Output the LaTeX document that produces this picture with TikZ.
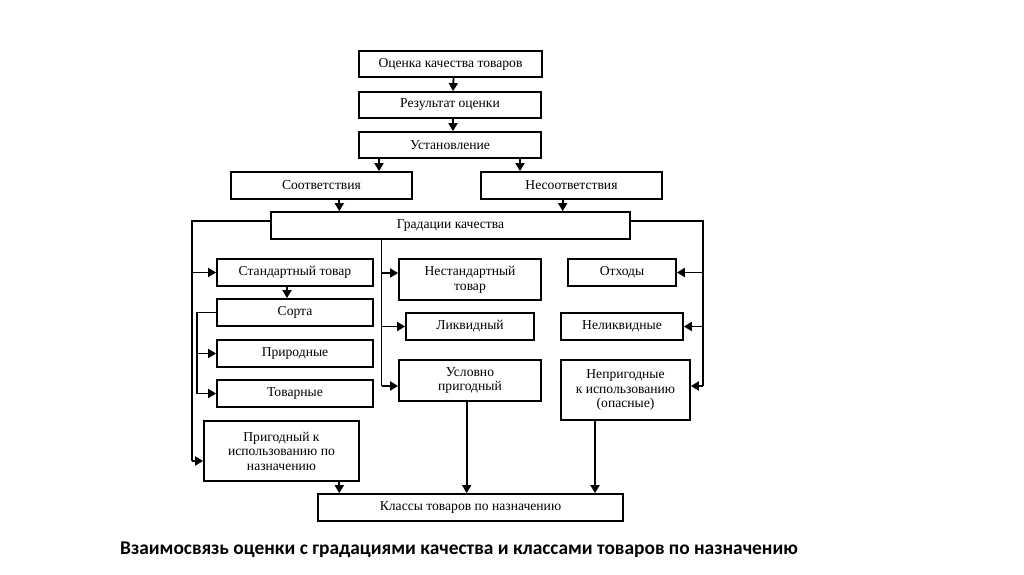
\documentclass[tikz,border=0pt]{standalone}
\usepackage{fontspec}
\setmainfont{Liberation Serif}
\newfontfamily\capfont{Carlito}
\usetikzlibrary{arrows.meta}
\begin{document}
\begin{tikzpicture}[x=1pt,y=-1pt,
  box/.style={draw,line width=1.8pt,inner sep=0pt,align=center,font=\fontsize{13.6}{14.6}\selectfont},
  arr/.style={line width=1.8pt,-{Triangle[length=8pt,width=9pt]}},
  ln/.style={line width=1.8pt}]
\useasboundingbox[fill=white] (0,0) rectangle (1024,574);
\node[box,minimum width=183pt,minimum height=26pt] (b1) at (450.5,64) {Оценка качества товаров};
\node[box,minimum width=182pt,minimum height=26pt] (b2) at (450,105) {Результат оценки};
\node[box,minimum width=182pt,minimum height=26pt] (b3) at (450,145) {Установление};
\node[box,minimum width=181pt,minimum height=27pt] (sootv) at (321.5,185.5) {Соответствия};
\node[box,minimum width=181pt,minimum height=27pt] (nesootv) at (571.5,185.5) {Несоответствия};
\node[box,minimum width=359pt,minimum height=27pt] (grad) at (450.5,225.5) {Градации качества};
\node[box,minimum width=156pt,minimum height=27pt] (std) at (295,272.5) {Стандартный товар};
\node[box,minimum width=156pt,minimum height=27pt] (sorta) at (295,312.5) {Сорта};
\node[box,minimum width=156pt,minimum height=27pt] (prir) at (295,353.5) {Природные};
\node[box,minimum width=156pt,minimum height=27pt] (tov) at (295,393.5) {Товарные};
\node[box,minimum width=155pt,minimum height=60pt] (prig) at (281.5,451) {Пригодный к\\использованию по\\назначению};
\node[box,minimum width=142pt,minimum height=41pt] (nestd) at (470,279.5) {Нестандартный\\товар};
\node[box,minimum width=128pt,minimum height=27pt] (likv) at (470,326.5) {Ликвидный};
\node[box,minimum width=142pt,minimum height=41pt] (usl) at (470,380.5) {Условно\\пригодный};
\node[box,minimum width=108pt,minimum height=27pt] (otx) at (622,272.5) {Отходы};
\node[box,minimum width=122pt,minimum height=27pt] (nelikv) at (622,326.5) {Неликвидные};
\node[box,minimum width=129pt,minimum height=60pt] (neprig) at (625.5,390) {Непригодные\\к использованию\\(опасные)};
\node[box,minimum width=305pt,minimum height=27pt] (klass) at (470.5,507.5) {Классы товаров по назначению};
\node[font=\capfont\bfseries\fontsize{19.4}{22}\selectfont] (cap) at (459,550) {Взаимосвязь оценки с градациями качества и классами товаров по назначению};
% top chain
\draw[arr] ([xshift=3pt]b1.south) -- ([xshift=3pt]b2.north);
\draw[arr] ([xshift=3pt]b2.south) -- ([xshift=3pt]b3.north);
\draw[arr] (b3.south -| 379,0) -- (sootv.north -| 379,0);
\draw[arr] (b3.south -| 520,0) -- (nesootv.north -| 520,0);
\draw[arr] (sootv.south -| 339.3,0) -- (grad.north -| 339.3,0);
\draw[arr] (nesootv.south -| 562.7,0) -- (grad.north -| 562.7,0);
% left bus
\coordinate (lt) at (192,221);
\coordinate (lb) at (192,461);
\draw[ln] (grad.west |- lt) -- (lt) -- (lb);
\draw[arr] (lb) -- (prig.west |- lb);
\draw[arr] (192,272.5) -- (std.west);
\draw[arr] ([xshift=-8pt]std.south) -- ([xshift=-8pt]sorta.north);
% sorta bracket
\coordinate (st) at (197,312.5);
\coordinate (sb) at (197,393.5);
\draw[ln] (sorta.west) -- (st) -- (sb);
\draw[arr] (sb) -- (tov.west);
\draw[arr] (197,353.5) -- (prir.west);
% center bus
\coordinate (ct) at (381.5,239);
\coordinate (cb) at (381.5,386);
\draw[ln] (grad.south -| ct) -- (cb);
\draw[arr] (cb) -- (usl.west |- cb);
\draw[arr] (381.5,273) -- (nestd.west |- 0,273);
\draw[arr] (381.5,326.5) -- (likv.west);
% right bus
\coordinate (rt) at (703,221);
\coordinate (rb) at (703,386);
\draw[ln] (grad.east |- rt) -- (rt) -- (rb);
\draw[arr] (rb) -- (neprig.east |- rb);
\draw[arr] (703,272.5) -- (otx.east);
\draw[arr] (703,326.5) -- (nelikv.east);
% to classes
\draw[arr] (prig.south -| 339.3,0) -- (klass.north -| 339.3,0);
\draw[arr] (usl.south -| 466.7,0) -- (klass.north -| 466.7,0);
\draw[arr] (neprig.south -| 595,0) -- (klass.north -| 595,0);
\end{tikzpicture}
\end{document}
